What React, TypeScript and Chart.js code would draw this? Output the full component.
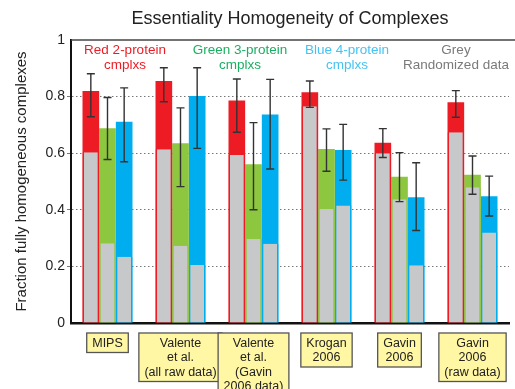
import React, { useEffect, useRef } from "react";
import { Chart, registerables } from "chart.js";

Chart.register(...registerables);

const FONT = '"Liberation Sans", Arial, Helvetica, sans-serif';

const TITLE = "Essentiality Homogeneity of Complexes";
const Y_TITLE = "Fraction fully homogeneous complexes";

const categories = [
  "MIPS",
  "Valente et al. (all raw data)",
  "Valente et al. (Gavin 2006 data)",
  "Krogan 2006",
  "Gavin 2006",
  "Gavin 2006 (raw data)",
];
const categoryLines = [
  ["MIPS"],
  ["Valente", "et al.", "(all raw data)"],
  ["Valente", "et al.", "(Gavin", "2006 data)"],
  ["Krogan", "2006"],
  ["Gavin", "2006"],
  ["Gavin", "2006", "(raw data)"],
];

const redValues = [0.82, 0.855, 0.786, 0.815, 0.637, 0.78];
const redRandom = [0.603, 0.614, 0.594, 0.766, 0.6, 0.674];
const redHigh = [0.881, 0.902, 0.862, 0.855, 0.687, 0.821];
const redLow = [0.729, 0.782, 0.674, 0.762, 0.585, 0.727];

const greenValues = [0.688, 0.635, 0.561, 0.615, 0.517, 0.524];
const greenRandom = [0.282, 0.273, 0.297, 0.403, 0.437, 0.48];
const greenHigh = [0.797, 0.76, 0.708, 0.686, 0.602, 0.59];
const greenLow = [0.578, 0.482, 0.4, 0.536, 0.429, 0.455];

const blueValues = [0.711, 0.802, 0.737, 0.611, 0.444, 0.448];
const blueRandom = [0.234, 0.205, 0.28, 0.415, 0.204, 0.32];
const blueHigh = [0.831, 0.902, 0.861, 0.702, 0.566, 0.519];
const blueLow = [0.57, 0.617, 0.544, 0.505, 0.327, 0.378];

const legendNotes = [
  { lines: ["Red 2-protein", "cmplxs"], color: "#ED1C24", x: 125 },
  { lines: ["Green 3-protein", "cmplxs"], color: "#1AAF62", x: 240 },
  { lines: ["Blue 4-protein", "cmplxs"], color: "#45C3F2", x: 347 },
  { lines: ["Grey", "Randomized data"], color: "#7A7A7A", x: 456 },
];

const RED = "#ED1C24";
const GREEN = "#8DC63F";
const BLUE = "#00AEEF";
const GREY = "#C7C8CA";

const errorSets = [
  { high: redHigh, low: redLow },
  { high: greenHigh, low: greenLow },
  { high: blueHigh, low: blueLow },
];

const overlayPlugin = {
  id: "overlay",
  afterDatasetsDraw(chart: any) {
    const { ctx, scales } = chart;
    const y = scales.y;
    ctx.save();
    ctx.strokeStyle = "#333333";
    ctx.lineWidth = 1.4;
    errorSets.forEach((es, di) => {
      const meta = chart.getDatasetMeta(di);
      meta.data.forEach((bar: any, i: number) => {
        const x = bar.x;
        const yh = y.getPixelForValue(es.high[i]);
        const yl = y.getPixelForValue(es.low[i]);
        ctx.beginPath();
        ctx.moveTo(x, yh);
        ctx.lineTo(x, yl);
        ctx.moveTo(x - 4, yh);
        ctx.lineTo(x + 4, yh);
        ctx.moveTo(x - 4, yl);
        ctx.lineTo(x + 4, yl);
        ctx.stroke();
      });
    });
    ctx.restore();
  },
  afterDraw(chart: any) {
    const { ctx, chartArea, scales } = chart;
    const x = scales.x;
    ctx.save();
    ctx.strokeStyle = "#444444";
    ctx.lineWidth = 1.5;
    ctx.beginPath();
    ctx.moveTo(chartArea.left, chartArea.top);
    ctx.lineTo(chart.width, chartArea.top);
    ctx.stroke();

    ctx.fillStyle = "#222222";
    ctx.font = `18px ${FONT}`;
    ctx.textAlign = "center";
    ctx.textBaseline = "middle";
    ctx.fillText(TITLE, 290, 19);

    ctx.font = `13.5px ${FONT}`;
    legendNotes.forEach((n) => {
      ctx.fillStyle = n.color;
      n.lines.forEach((l, k) => {
        ctx.fillText(l, n.x, 50 + k * 15);
      });
    });

    ctx.font = `12.5px ${FONT}`;
    const lh = 14.5;
    categoryLines.forEach((lines, i) => {
      const cx = x.getPixelForValue(i);
      let w = 0;
      lines.forEach((l) => (w = Math.max(w, ctx.measureText(l).width)));
      const bw = w + 11;
      const top = chartArea.bottom + 10;
      const bh = lines.length * lh + 5;
      ctx.fillStyle = "#FFF7A3";
      ctx.fillRect(cx - bw / 2, top, bw, bh);
      ctx.strokeStyle = "#555555";
      ctx.lineWidth = 1.3;
      ctx.strokeRect(cx - bw / 2, top, bw, bh);
      ctx.fillStyle = "#222222";
      lines.forEach((l, k) => {
        ctx.fillText(l, cx, top + 2.5 + lh / 2 + k * lh + 0.5);
      });
    });
    ctx.restore();
  },
};

export default function App() {
  const ref = useRef<HTMLCanvasElement>(null);
  useEffect(() => {
    if (!ref.current) return;
    const greyBorder = (c: string) => ({
      backgroundColor: GREY,
      borderColor: c,
      borderWidth: { left: 1.5, right: 1.5, top: 0, bottom: 0 },
      borderSkipped: false as any,
      order: 0,
    });
    const chart = new Chart(ref.current, {
      type: "bar",
      data: {
        labels: categories,
        datasets: [
          { label: "Red random", data: redRandom, stack: "r", ...greyBorder(RED) },
          { label: "Green random", data: greenRandom, stack: "g", ...greyBorder(GREEN) },
          { label: "Blue random", data: blueRandom, stack: "b", ...greyBorder(BLUE) },
          { label: "Red 2-protein", data: redValues, stack: "r", backgroundColor: RED, order: 1 },
          { label: "Green 3-protein", data: greenValues, stack: "g", backgroundColor: GREEN, order: 1 },
          { label: "Blue 4-protein", data: blueValues, stack: "b", backgroundColor: BLUE, order: 1 },
        ] as any,
      },
      options: {
        animation: false,
        responsive: true,
        maintainAspectRatio: false,
        layout: { padding: { top: 40, right: 6, left: 0, bottom: 0 } },
        datasets: { bar: { categoryPercentage: 0.685, barPercentage: 1 } } as any,
        plugins: {
          legend: { display: false },
          title: { display: false },
          tooltip: { enabled: false },
        },
        scales: {
          x: {
            stacked: true,
            ticks: { display: false },
            grid: { display: false },
            border: { color: "#111111", width: 2.5 },
            afterFit: (s: any) => {
              s.height = 66;
            },
          },
          y: {
            stacked: false,
            min: 0,
            max: 1,
            ticks: {
              stepSize: 0.2,
              padding: 2,
              color: "#222222",
              font: { family: FONT, size: 14 },
              callback: (v: any) => String(Math.round(Number(v) * 10) / 10),
            },
            grid: {
              color: (c: any) =>
                c.tick && c.tick.value > 0.001 && c.tick.value < 0.999 ? "#777777" : "rgba(0,0,0,0)",
              lineWidth: 1,
              tickLength: 4,
            },
            border: { color: "#111111", width: 2, dash: [1.5, 2.5] },
            title: {
              display: true,
              text: Y_TITLE,
              color: "#222222",
              font: { family: FONT, size: 15 },
              padding: { top: 12.5, bottom: 0 },
            },
            afterFit: (s: any) => {
              s.width = 71;
            },
          },
        },
      },
      plugins: [overlayPlugin],
    });
    return () => chart.destroy();
  }, []);
  return (
    <div style={{ position: "fixed", left: 0, top: 0, width: 515, height: 389, background: "#fff" }}>
      <canvas ref={ref} />
    </div>
  );
}
